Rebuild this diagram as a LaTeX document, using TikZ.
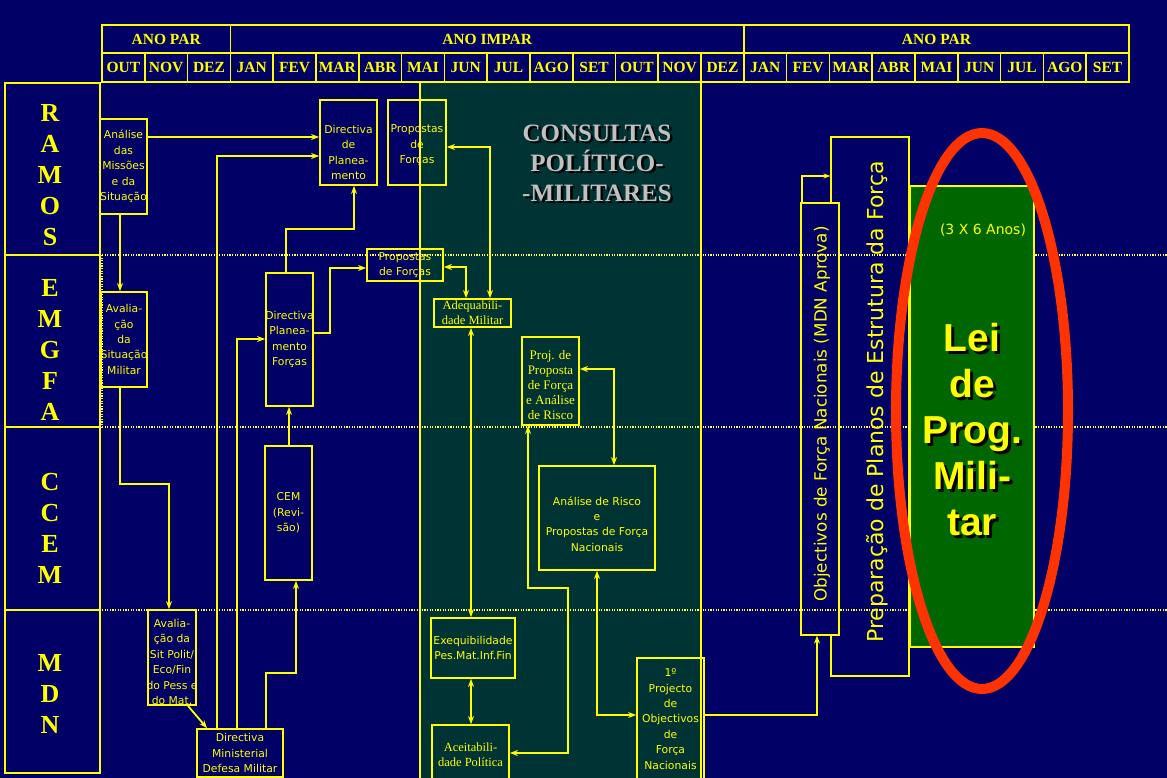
\documentclass[tikz,border=0pt]{standalone}
\usepackage{fontspec}
\setmainfont{Liberation Serif}
\newfontfamily\dvs{DejaVu Sans}
\newfontfamily\arl{Liberation Sans}
\usetikzlibrary{arrows.meta}
\definecolor{navy}{RGB}{0,0,102}
\definecolor{tealbg}{RGB}{0,51,51}
\definecolor{grn}{RGB}{0,102,0}
\definecolor{Y}{RGB}{255,255,0}
\definecolor{redo}{RGB}{255,51,0}
\definecolor{cgray}{RGB}{192,192,192}
\begin{document}
\begin{tikzpicture}[x=1pt,y=-1pt,
  bx/.style={draw=Y, line width=1.8pt, inner sep=0pt},
  tbx/.style={draw=Y, line width=1.2pt, inner sep=0pt},
  st/.style={text=Y, align=center, inner sep=0pt, font=\dvs\fontsize{10.8}{15.4}\selectfont},
  sr/.style={text=Y, align=center, inner sep=0pt, font=\fontsize{13}{15}\selectfont},
  con/.style={draw=Y, line width=1.8pt},
  arr/.style={con, -{Stealth[length=8pt,width=6pt]}},
  arr2/.style={con, {Stealth[length=8pt,width=6pt]}-{Stealth[length=8pt,width=6pt]}},
  dotl/.style={draw=Y!65!white, line width=2.6pt, dash pattern=on 1.2pt off 1.4pt},
  hcell/.style={draw=Y, line width=1.6pt, inner sep=0pt, text=Y, font=\bfseries\fontsize{15.5}{18}\selectfont},
  lab/.style={text=Y, align=center, inner sep=0pt, font=\bfseries\fontsize{26}{31}\selectfont}]
\useasboundingbox (0,0) rectangle (1167,778);
\fill[navy] (0,0) rectangle (1167,778);
% consultation period
\fill[tealbg] (420,82) rectangle (701,778);
\draw[con] (420,82) -- (420,778);
\draw[con] (701,82) -- (701,778);
% header
\node[hcell, minimum width=128.375, minimum height=28] (y1) at (166.19,39) {ANO PAR};
\node[hcell, minimum width=513.5, minimum height=28] (y2) at (487.125,39) {ANO IMPAR};
\node[hcell, minimum width=385.125, minimum height=28] (y3) at (936.44,39) {ANO PAR};
\foreach \m [count=\i from 0] in {OUT,NOV,DEZ,JAN,FEV,MAR,ABR,MAI,JUN,JUL,AGO,SET,OUT,NOV,DEZ,JAN,FEV,MAR,ABR,MAI,JUN,JUL,AGO,SET}
  \node[hcell, minimum width=42.79, minimum height=29] (m\i) at ({102+42.7917*(\i+0.5)},67.5) {\m};
% row labels
\node[bx, fill=navy, minimum width=95, minimum height=172] (ramos) at (52.5,169) {};
\node[bx, fill=navy, minimum width=95, minimum height=172] (emgfa) at (52.5,341) {};
\node[bx, fill=navy, minimum width=95, minimum height=183] (ccem) at (52.5,518.5) {};
\node[bx, fill=navy, minimum width=95, minimum height=163] (mdn) at (52.5,691.5) {};
\node[lab] at (50,175) {R\\A\\M\\O\\S};
\node[lab] at (50,350) {E\\M\\G\\F\\A};
\node[lab] at (50,528) {C\\C\\E\\M};
\node[lab] at (50,694) {M\\D\\N};
% right side boxes
\node[tbx, minimum width=78, minimum height=539] (prep) at (870,406.5) {};
\node[tbx, fill=navy, minimum width=38, minimum height=432] (obj) at (820,419) {};
% dotted separators
\draw[dotl] (102,255) -- (1167,255);
\draw[dotl] (102,427) -- (1167,427);
\draw[dotl] (102,610) -- (1167,610);
\draw[dotl] (102,255) -- (102,427);
\node[rotate=90, text=Y, font=\dvs\fontsize{22}{26}\selectfont] at (877,402) {Preparação de Planos de Estrutura da Força};
\node[rotate=90, text=Y, font=\dvs\fontsize{16.8}{20}\selectfont] at (822,414) {Objectivos de Força Nacionais (MDN Aprova)};
% green box
\node[tbx, fill=grn, minimum width=124, minimum height=461] (lei) at (972,416.5) {};
\node[text=Y, font=\dvs\fontsize{14}{17}\selectfont] at (983,230) {(3 X 6 Anos)};
\node[text=black, align=center, font=\arl\bfseries\fontsize{39}{46}\selectfont] at (975,433) {Lei\\de\\Prog.\\Mili-\\tar};
\node[text=Y, align=center, font=\arl\bfseries\fontsize{39}{46}\selectfont] at (972,430) {Lei\\de\\Prog.\\Mili-\\tar};
% process boxes
\node[bx, minimum width=47, minimum height=95] (ana) at (123.5,166.5) {};
\node[st] at (ana) {Análise\\das\\Missões\\e da\\Situação};
\node[bx, minimum width=57, minimum height=85] (dirp) at (348.5,142.5) {};
\node[st, yshift=-10pt] at (dirp) {Directiva\\de\\Planea-\\mento};
\node[bx, minimum width=58, minimum height=85] (prop1) at (417,142.5) {};
\node[st, yshift=-3pt] at (prop1) {Propostas\\de\\Forças};
\node[bx, minimum width=76, minimum height=32] (prop2) at (405,265) {};
\node[st] at (prop2) {Propostas\\de Forças};
\node[bx, minimum width=77, minimum height=28] (adeq) at (472.5,313) {};
\node[sr, font=\fontsize{12.5}{15}\selectfont] at (adeq) {Adequabili-\\dade Militar};
\node[bx, minimum width=46, minimum height=95] (aval) at (124,339.5) {};
\node[st] at (aval) {Avalia-\\ção\\da\\Situação\\Militar};
\node[bx, minimum width=47, minimum height=133] (dpf) at (289.5,339.5) {};
\node[st] at (dpf) {Directiva\\Planea-\\mento\\Forças};
\node[bx, minimum width=47, minimum height=134] (cem) at (288.5,513) {};
\node[st] at (cem) {CEM\\(Revi-\\são)};
\node[bx, minimum width=57, minimum height=88] (proj) at (550.5,381) {};
\node[sr, yshift=-4pt] at (proj) {Proj. de\\Proposta\\de Força\\e Análise\\de Risco};
\node[bx, minimum width=116, minimum height=104] (anr) at (597,518) {};
\node[st, yshift=-6pt] at (anr) {Análise de Risco\\e\\Propostas de Força\\Nacionais};
\node[bx, minimum width=48, minimum height=95] (avs) at (172,657.5) {};
\node[st, yshift=-4.5pt] at (avs) {Avalia-\\ção da\\Sit Polit/\\Eco/Fin\\do Pess e\\do Mat.};
\node[bx, minimum width=86, minimum height=48] (dmin) at (240,753) {};
\node[st] at (dmin) {Directiva\\Ministerial\\Defesa Militar};
\node[bx, minimum width=84, minimum height=60] (exe) at (473,648) {};
\node[st] at (exe) {Exequibilidade\\Pes.Mat.Inf.Fin};
\node[bx, minimum width=77, minimum height=59] (acei) at (470.5,754.5) {};
\node[sr, font=\fontsize{12.5}{15}\selectfont] at (acei) {Aceitabili-\\dade Política};
\node[bx, minimum width=67, minimum height=122] (proj1) at (670.5,719) {};
\node[st] at (proj1) {1º\\Projecto\\de\\Objectivos\\de\\Força\\Nacionais};
% connectors
\draw[arr] (ana.east |- 0,137) -- (dirp.west |- 0,137);
\draw[arr] (dmin.north -| 217,0) -- (217,156) -- (dirp.west |- 0,156);
\draw[arr] (dmin.north -| 237,0) |- (dpf.west |- 0,339);
\draw[arr] (dmin.north -| 266,0) -- (266,673) -| (cem.south -| 296,0);
\draw[arr] (dpf.north -| 286,0) |- (354,229) -- (dirp.south -| 354,0);
\draw[arr] (cem.north -| 289,0) -- (dpf.south -| 289,0);
\draw[arr] (dpf.east |- 0,333) -- (330,333) |- (prop2.west |- 0,268);
\draw[arr2] (prop2.east |- 0,267) -| (adeq.north -| 466,0);
\draw[arr2] (prop1.east |- 0,147) -| (adeq.north -| 490,0);
\draw[arr] (ana.south -| 120,0) -- (aval.north -| 120,0);
\draw[arr] (aval.south -| 120,0) |- (169,484) -- (avs.north -| 169,0);
\draw[arr] (avs.south -| 188,0) -- (dmin.north -| 207,0);
\draw[arr2] (adeq.south -| 471,0) -- (exe.north -| 471,0);
\draw[arr2] (exe.south -| 471,0) -- (acei.north -| 471,0);
\draw[arr2] (proj.south -| 528,0) |- (568,588) |- (acei.east |- 0,753);
\draw[arr2] (proj.east |- 0,369) -| (anr.north -| 614,0);
\draw[arr2] (anr.south -| 597,0) |- (proj1.west |- 0,715);
\draw[arr] (proj1.east |- 0,715) -| (obj.south -| 817,0);
\draw[con, line width=1.2pt, -{Stealth[length=7pt,width=5pt]}] (obj.north -| 802,0) |- (prep.west |- 0,176);
% title of consultation period
\node[text=black, align=center, font=\bfseries\fontsize{25}{30}\selectfont] at (599.5,165.5) {CONSULTAS\\POLÍTICO-\\-MILITARES};
\node[text=cgray, align=center, font=\bfseries\fontsize{25}{30}\selectfont] (cons) at (597,163) {CONSULTAS\\POLÍTICO-\\-MILITARES};
% red ellipse
\draw[redo, line width=10pt] (982,411) ellipse [x radius=86, y radius=278];
\end{tikzpicture}
\end{document}
